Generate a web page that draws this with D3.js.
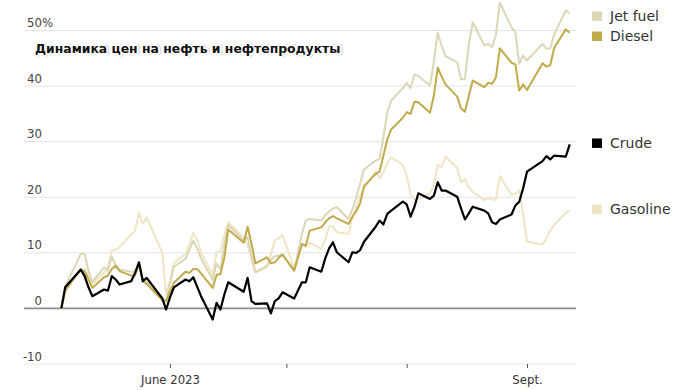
<!DOCTYPE html>
<html><head><meta charset="utf-8">
<script src="https://cdn.jsdelivr.net/npm/d3@7"></script>
<style>body{margin:0;background:#fff} svg{display:block}</style>
</head><body><svg id="c" width="700" height="390"></svg>
<script>
// ---- data (percent change since May 4, 2023) ----
const dates = [
 "2023-05-04","2023-05-05","2023-05-08","2023-05-09","2023-05-10","2023-05-11","2023-05-12","2023-05-15","2023-05-16","2023-05-17","2023-05-18","2023-05-19","2023-05-22","2023-05-23","2023-05-24","2023-05-25","2023-05-26","2023-05-30","2023-05-31",
 "2023-06-01","2023-06-02","2023-06-05","2023-06-06","2023-06-07","2023-06-08","2023-06-09","2023-06-12","2023-06-13","2023-06-14","2023-06-15","2023-06-16","2023-06-20","2023-06-21","2023-06-22","2023-06-23","2023-06-26","2023-06-27","2023-06-28","2023-06-29","2023-06-30",
 "2023-07-03","2023-07-05","2023-07-06","2023-07-07","2023-07-10","2023-07-11","2023-07-12","2023-07-13","2023-07-14","2023-07-17","2023-07-18","2023-07-19","2023-07-20","2023-07-21","2023-07-24","2023-07-25","2023-07-26","2023-07-27","2023-07-28","2023-07-31",
 "2023-08-01","2023-08-02","2023-08-03","2023-08-04","2023-08-07","2023-08-08","2023-08-09","2023-08-10","2023-08-11","2023-08-14","2023-08-15","2023-08-16","2023-08-17","2023-08-18","2023-08-21","2023-08-22","2023-08-23","2023-08-24","2023-08-25","2023-08-28","2023-08-29","2023-08-30","2023-08-31",
 "2023-09-01","2023-09-05","2023-09-06","2023-09-07","2023-09-08","2023-09-11","2023-09-12"];

const crude = [
 0,3.8,6.2,7.0,5.8,3.8,2.2,3.4,3.2,5.8,5.2,4.3,4.9,6.4,8.3,4.9,5.5,1.8,-0.2,
 2.0,3.8,5.2,4.9,5.6,3.9,2.2,-2.0,1.0,-0.2,2.5,4.7,3.0,5.5,1.3,0.8,0.9,-0.9,1.3,1.8,2.9,
 1.8,4.7,4.7,7.4,6.6,9.0,10.8,11.9,10.1,8.3,10.1,10.0,10.5,12.0,14.7,15.8,15.1,17.0,17.6,19.2,
 18.7,16.5,18.3,20.7,19.7,20.3,22.7,21.2,21.2,20.1,18.0,16.0,17.1,18.3,17.6,17.1,15.5,15.2,16.0,16.9,18.5,19.2,21.6,
 24.6,26.5,27.4,26.8,27.5,27.3,29.5];

const diesel = [
 0,3.2,6.2,6.8,6.7,5.2,3.7,5.6,5.9,7.1,7.7,6.7,5.9,5.9,8.1,4.9,4.4,1.5,1.3,
 3.0,4.6,6.6,6.4,7.1,7.1,6.3,3.7,6.0,6.2,9.1,14.2,11.8,14.7,11.7,8.1,9.2,8.1,8.3,9.1,9.7,
 6.8,11.6,11.3,14.0,14.6,15.5,16.2,16.6,16.2,15.2,16.5,17.5,18.9,22.0,24.2,24.6,27.5,30.4,32.2,34.3,
 35.3,35.0,37.2,37.1,35.2,38.3,43.3,41.7,40.3,38.1,36.0,35.4,38.2,41.0,39.8,40.6,40.4,41.6,46.8,44.2,43.9,39.2,40.3,
 39.3,44.1,43.5,43.8,46.9,50.2,49.6];

const jetFuel = [
 0,4.0,8.3,9.8,9.8,6.8,4.8,7.4,6.8,9.3,7.8,7.0,6.6,6.5,7.9,5.3,4.8,2.0,1.3,
 4.5,7.5,8.9,10.5,12.2,10.8,9.0,5.1,8.1,7.0,11.4,15.0,12.2,12.8,9.5,6.5,7.7,8.7,9.4,9.5,9.6,
 6.8,13.4,15.8,16.1,15.8,16.8,17.4,18.0,18.2,16.1,17.8,19.9,22.5,25.0,26.6,26.9,30.9,35.3,37.4,39.6,
 40.6,39.6,42.1,41.8,40.1,44.4,49.6,47.2,45.4,44.3,41.2,41.3,47.5,51.5,47.3,47.6,47.0,49.2,55.0,50.6,49.6,44.0,45.5,
 44.6,47.6,46.7,46.8,49.3,53.6,53.1];

const gasoline = [
 0,3.0,6.0,7.0,7.2,5.8,4.5,6.5,7.5,10.4,10.5,11.0,13.3,14.0,17.2,15.2,16.4,10.0,2.5,
 5.0,8.2,9.8,11.5,13.6,12.4,10.0,6.0,10.1,10.2,13.2,15.5,12.7,11.5,8.7,6.5,7.4,9.8,12.2,12.6,13.2,
 7.2,11.5,11.0,11.8,10.7,12.3,14.7,14.8,13.7,13.4,16.4,18.2,20.2,21.6,24.7,23.4,24.5,26.1,27.2,25.8,
 23.9,20.5,19.5,19.7,20.7,22.1,25.9,25.4,27.3,25.3,22.7,23.3,21.8,21.0,19.5,19.8,19.6,19.6,23.8,20.4,20.6,21.3,17.0,
 12.0,11.5,12.6,14.0,15.0,17.2,17.6];

const seriesNames = ["Gasoline","Jet fuel","Diesel","Crude"];
const seriesColors = ["#efe4c3","#dbd6b6","#c2aa4b","#000000"];
const yTicks = [-10,0,10,20,30,40,50];
const xTickDates = ["2023-06-01","2023-07-01","2023-08-01","2023-09-01"];
const xTickLabels = ["June 2023","","","Sept."];
const title = "Динамика цен на нефть и нефтепродукты";

// ---- drawing ----
const parse = d3.timeParse("%Y-%m-%d");
const svg = d3.select("#c");
const left = 24, right = 576;
const x = d3.scaleTime()
  .domain([new Date(2023,3,24,9), new Date(2023,8,13,15)])
  .range([left, right]);
const y = d3.scaleLinear().domain([-10,50]).range([364,30.5]);
const narrow = "'Liberation Sans Narrow','DejaVu Sans Condensed',sans-serif";

// gridlines
svg.append("g").selectAll("line").data(yTicks).join("line")
  .attr("x1", left).attr("x2", right)
  .attr("y1", d=>y(d)).attr("y2", d=>y(d))
  .attr("stroke", d=> d===0 ? "#8c8c8c" : "#e4e4e4")
  .attr("stroke-width", d=> d===0 ? 1.6 : 1);

// y labels
const yl = svg.append("g").attr("font-family", narrow).attr("font-size", 13).attr("fill", "#444");
yl.selectAll("text.n").data(yTicks).join("text").attr("class","n")
  .attr("x", 42).attr("y", d=>y(d)-3.5).attr("text-anchor","end").text(d=>d);
yl.append("text").attr("x", 42).attr("y", y(d3.max(yTicks))-3.5).text("%");

// x axis
const xAxis = d3.axisBottom(x)
  .tickValues(xTickDates.map(parse))
  .tickSize(4)
  .tickFormat((d,i)=>xTickLabels[i]);
const gx = svg.append("g").attr("transform", `translate(0,${y(-10)})`).call(xAxis);
gx.select(".domain").remove();
gx.selectAll(".tick line").attr("stroke", "#555");
gx.selectAll(".tick text").attr("y", 11).attr("font-family", narrow)
  .attr("font-size", 13).attr("fill", "#333");

// lines
const parsedDates = dates.map(parse);
const valuesBy = {"Gasoline": gasoline, "Jet fuel": jetFuel, "Diesel": diesel, "Crude": crude};
const line = d3.line().x(d=>x(d[0])).y(d=>y(d[1]));
const series = seriesNames.map((n,i)=>({
  name:n, color:seriesColors[i],
  pts: parsedDates.map((dt,j)=>[dt, valuesBy[n][j]])
}));
svg.append("g").selectAll("path").data(series).join("path")
  .attr("d", d=>line(d.pts))
  .attr("fill","none")
  .attr("stroke", d=>d.color)
  .attr("stroke-width", d=> d.name==="Crude" ? 2.2 : 2)
  .attr("stroke-linejoin","round");

// legend at line ends with dodging (clamped at top)
const leg = series.map(s=>({name:s.name, color:s.color, y:Math.max(16, y(s.pts[s.pts.length-1][1]) - 1.5)}))
  .sort((a,b)=>a.y-b.y);
for (let i=1;i<leg.length;i++){ if (leg[i].y - leg[i-1].y < 20) leg[i].y = leg[i-1].y + 20; }
const lg = svg.append("g").selectAll("g").data(leg).join("g")
  .attr("transform", d=>`translate(592,${d.y})`);
lg.append("rect").attr("x",0).attr("y",-4.5).attr("width",10).attr("height",9.5).attr("fill", d=>d.color);
lg.append("text").attr("x",18).attr("dy","0.35em")
  .attr("font-family","'DejaVu Sans',sans-serif").attr("font-size",14).attr("fill","#333")
  .text(d=>d.name);

// title with halo
const tg = svg.append("g").attr("font-family","'DejaVu Sans',sans-serif")
  .attr("font-weight","bold").attr("font-size",12.4);
tg.append("text").attr("x",35.8).attr("y",53.3).text(title)
  .attr("fill","#bbb").attr("stroke","#c8c8c8").attr("stroke-width",4).attr("stroke-linejoin","round");
tg.append("text").attr("x",35).attr("y",52.5).text(title)
  .attr("fill","#fff").attr("stroke","#fff").attr("stroke-width",4).attr("stroke-linejoin","round");
tg.append("text").attr("x",35).attr("y",52.5).text(title).attr("fill","#111");
</script></body></html>
